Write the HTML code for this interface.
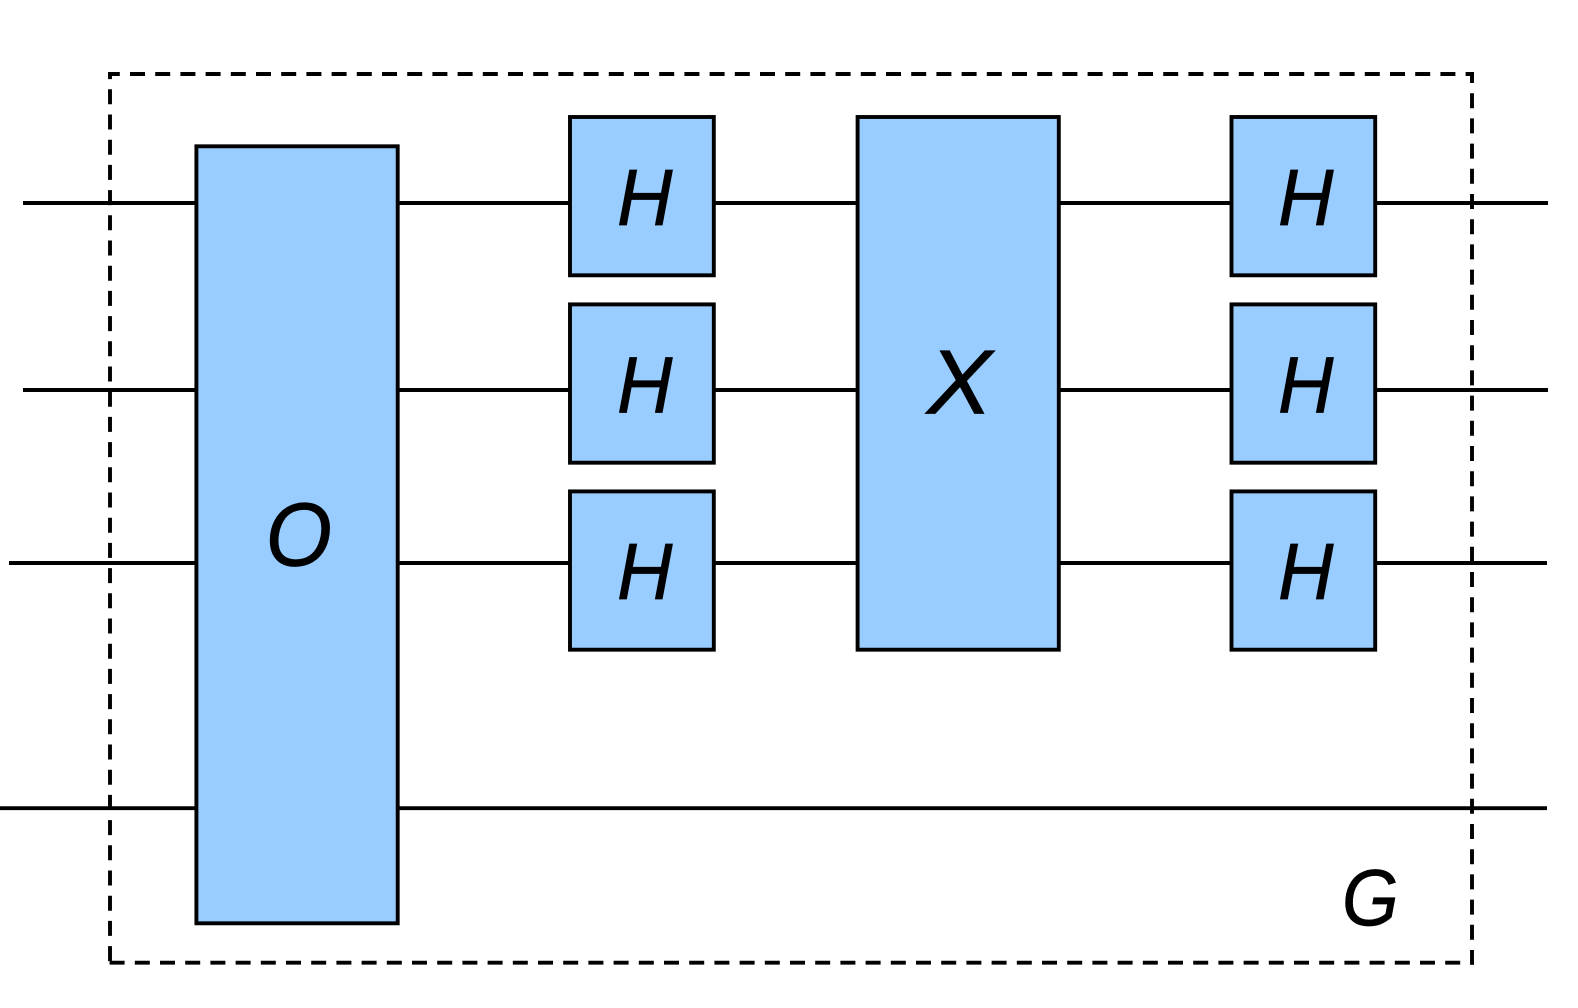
<!DOCTYPE html>
<html><head><meta charset="utf-8"><style>
html,body{margin:0;padding:0;background:#fff}
svg{display:block}
text{font-family:"Liberation Sans",Arial,sans-serif;font-style:italic;fill:#000;stroke:#000;stroke-width:.7}
.w{stroke:#000;stroke-width:3.9;fill:none}
.b{stroke:#000;stroke-width:3.9;fill:#99ccff}
.d{stroke:#000;stroke-width:3.9;fill:none;stroke-dasharray:15 10.2}
</style></head><body>
<svg width="1578" height="1008" viewBox="0 0 1578 1008" xmlns="http://www.w3.org/2000/svg">
<rect width="1578" height="1008" fill="#fff"/>
<line class="w" x1="23" y1="203" x2="1548" y2="203"/>
<line class="w" x1="23" y1="390" x2="1548" y2="390"/>
<line class="w" x1="9" y1="563" x2="1547" y2="563"/>
<line class="w" x1="0" y1="808.2" x2="1547" y2="808.2"/>
<line class="d" x1="108" y1="74" x2="1474" y2="74" stroke-dashoffset="3.2"/>
<line class="d" x1="110" y1="72" x2="110" y2="964.7" stroke-dashoffset="7.9"/>
<line class="d" x1="1472" y1="72" x2="1472" y2="964.7" stroke-dashoffset="4"/>
<line class="d" x1="108" y1="962.7" x2="1474" y2="962.7" stroke-dashoffset="23.6"/>
<rect class="b" x="196.4" y="146.3" width="201.3" height="777"/>
<rect class="b" x="570" y="117" width="143.8" height="158.3"/>
<rect class="b" x="570" y="304.4" width="143.8" height="158.3"/>
<rect class="b" x="570" y="491.4" width="143.8" height="158.3"/>
<rect class="b" x="857.6" y="117" width="201.2" height="532.7"/>
<rect class="b" x="1231.5" y="117" width="143.7" height="158.3"/>
<rect class="b" x="1231.5" y="304.4" width="143.7" height="158.3"/>
<rect class="b" x="1231.5" y="491.4" width="143.7" height="158.3"/>
<text transform="translate(265.5 565.5) scale(.95 1)" font-size="90">O</text>
<text transform="translate(617 225) scale(.96 1)" font-size="80">H</text>
<text transform="translate(617 412.3) scale(.96 1)" font-size="80">H</text>
<text transform="translate(617 599) scale(.96 1)" font-size="80">H</text>
<text transform="translate(927 413.3) scale(1.07 1)" font-size="91">X</text>
<text transform="translate(1278 225) scale(.96 1)" font-size="80">H</text>
<text transform="translate(1278 412.3) scale(.96 1)" font-size="80">H</text>
<text transform="translate(1278 599) scale(.96 1)" font-size="80">H</text>
<text transform="translate(1342 925) scale(.91 1)" font-size="80">G</text>
</svg>
</body></html>
